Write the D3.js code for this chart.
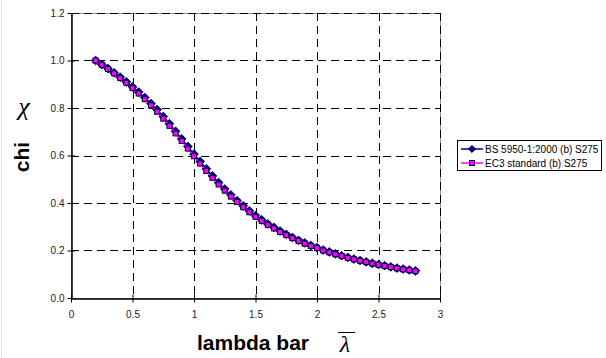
<!DOCTYPE html>
<html>
<head>
<meta charset="utf-8">
<script src="https://cdn.jsdelivr.net/npm/d3@7"></script>
<style>
  body { margin: 0; background: #fff; }
  svg { display: block; font-family: "Liberation Sans", Arial, sans-serif; }
</style>
</head>
<body>
<div id="chart"></div>
<script>
// slenderness values (x)
const lambdaBar = [0.20, 0.25, 0.30, 0.35, 0.40, 0.45, 0.50, 0.55, 0.60, 0.65,
  0.70, 0.75, 0.80, 0.85, 0.90, 0.95, 1.00, 1.05, 1.10, 1.15,
  1.20, 1.25, 1.30, 1.35, 1.40, 1.45, 1.50, 1.55, 1.60, 1.65,
  1.70, 1.75, 1.80, 1.85, 1.90, 1.95, 2.00, 2.05, 2.10, 2.15,
  2.20, 2.25, 2.30, 2.35, 2.40, 2.45, 2.50, 2.55, 2.60, 2.65,
  2.70, 2.75, 2.80];

// BS 5950-1:2000 (b) S275
const chiBS = [1.000, 0.983, 0.966, 0.948, 0.930, 0.910, 0.889, 0.867, 0.844, 0.819,
  0.793, 0.764, 0.734, 0.702, 0.670, 0.638, 0.606, 0.575, 0.544, 0.514,
  0.486, 0.459, 0.434, 0.410, 0.388, 0.367, 0.347, 0.329, 0.312, 0.297,
  0.282, 0.268, 0.255, 0.243, 0.232, 0.221, 0.212, 0.202, 0.194, 0.186,
  0.178, 0.171, 0.164, 0.158, 0.152, 0.146, 0.141, 0.136, 0.131, 0.126,
  0.122, 0.118, 0.114];

// EC3 standard (b) S275
const chiEC3 = [1.000, 0.982, 0.964, 0.946, 0.926, 0.906, 0.884, 0.861, 0.837, 0.811,
  0.784, 0.755, 0.725, 0.693, 0.661, 0.629, 0.597, 0.566, 0.535, 0.506,
  0.478, 0.452, 0.427, 0.404, 0.382, 0.361, 0.342, 0.325, 0.308, 0.293,
  0.278, 0.265, 0.252, 0.240, 0.229, 0.219, 0.210, 0.200, 0.192, 0.184,
  0.177, 0.169, 0.163, 0.157, 0.151, 0.145, 0.140, 0.135, 0.130, 0.125,
  0.121, 0.117, 0.113];

const xTicks = [0, 0.5, 1, 1.5, 2, 2.5, 3];
const yTicks = [0, 0.2, 0.4, 0.6, 0.8, 1.0, 1.2];
const seriesNames = ["BS 5950-1:2000 (b) S275", "EC3 standard (b) S275"];

const width = 606, height = 358;
const plot = { left: 71, right: 440, top: 13, bottom: 298 };

const svg = d3.select("#chart").append("svg")
  .attr("width", width)
  .attr("height", height);

// faint chart border on the left edge
svg.append("line")
  .attr("x1", 1.5).attr("x2", 1.5).attr("y1", 0).attr("y2", height)
  .attr("stroke", "#e3e3e3");

const x = d3.scaleLinear().domain([0, 3]).range([plot.left, plot.right]);
const y = d3.scaleLinear().domain([0, 1.2]).range([plot.bottom, plot.top]);

// plot area border
svg.append("rect")
  .attr("x", plot.left + 0.5).attr("y", plot.top + 0.5)
  .attr("width", plot.right - plot.left).attr("height", plot.bottom - plot.top)
  .attr("fill", "none")
  .attr("stroke", "#909090");

// dashed grid
const grid = svg.append("g").attr("stroke", "#000").attr("stroke-dasharray", "8,5");
grid.selectAll(".gx")
  .data(xTicks.filter(d => d > 0))
  .join("line")
  .attr("x1", d => Math.round(x(d)) + 0.5).attr("x2", d => Math.round(x(d)) + 0.5)
  .attr("y1", plot.top).attr("y2", plot.bottom);
grid.selectAll(".gy")
  .data(yTicks.filter(d => d > 0))
  .join("line")
  .attr("x1", plot.left).attr("x2", plot.right)
  .attr("y1", d => Math.round(y(d)) + 0.5).attr("y2", d => Math.round(y(d)) + 0.5);

// axes
const xAxis = svg.append("g")
  .attr("transform", `translate(0,${plot.bottom + 0.5})`)
  .call(d3.axisBottom(x).tickValues(xTicks).tickFormat(d3.format("")).tickSizeInner(4).tickSizeOuter(0));
xAxis.selectAll(".tick line").attr("y1", -4);
xAxis.selectAll("text").attr("font-size", 10).attr("fill", "#222").attr("dy", "1.2em");

const yAxis = svg.append("g")
  .attr("transform", `translate(${plot.left + 0.5},0)`)
  .call(d3.axisLeft(y).tickValues(yTicks).tickFormat(d3.format(".1f")).tickSizeInner(4).tickSizeOuter(0));
yAxis.selectAll(".tick line").attr("x1", 4).attr("x2", -4);
yAxis.selectAll("text").attr("font-size", 10).attr("fill", "#222").attr("x", -7);
svg.selectAll(".domain").attr("stroke", "#000").attr("stroke-width", 1.5);

const line = d3.line().x((d, i) => x(lambdaBar[i])).y(d => y(d));

// BS 5950 series: navy with diamonds
svg.append("path").datum(chiBS)
  .attr("d", line).attr("fill", "none").attr("stroke", "#000080").attr("stroke-width", 1.5);
const diamond = d3.symbol().type(d3.symbolDiamond2).size(48);
svg.append("g").selectAll("path")
  .data(chiBS)
  .join("path")
  .attr("d", diamond)
  .attr("transform", (d, i) => `translate(${x(lambdaBar[i])},${y(d)})`)
  .attr("fill", "#000080").attr("stroke", "#000080").attr("stroke-width", 1);

// EC3 series: magenta with squares
svg.append("path").datum(chiEC3)
  .attr("d", line).attr("fill", "none").attr("stroke", "#ff00ff").attr("stroke-width", 1.5);
svg.append("g").selectAll("rect")
  .data(chiEC3)
  .join("rect")
  .attr("x", (d, i) => x(lambdaBar[i]) - 2.5)
  .attr("y", d => y(d) - 2.5)
  .attr("width", 5).attr("height", 5)
  .attr("fill", "#ff00ff").attr("stroke", "#000040").attr("stroke-width", 1);

// axis titles
svg.append("text")
  .attr("x", 24).attr("y", 115)
  .attr("text-anchor", "middle")
  .attr("font-family", "'Liberation Serif', 'DejaVu Serif', serif")
  .attr("font-style", "italic").attr("font-size", 26)
  .text("χ");
svg.append("text")
  .attr("transform", "translate(29,157) rotate(-90)")
  .attr("text-anchor", "middle")
  .attr("font-weight", "bold").attr("font-size", 21)
  .text("chi");
svg.append("text")
  .attr("x", 197).attr("y", 350)
  .attr("font-weight", "bold").attr("font-size", 21)
  .text("lambda bar");
svg.append("text")
  .attr("x", 345).attr("y", 352)
  .attr("text-anchor", "middle")
  .attr("font-family", "'Liberation Serif', 'DejaVu Serif', serif")
  .attr("font-style", "italic").attr("font-size", 24)
  .text("λ");
svg.append("line")
  .attr("x1", 338).attr("x2", 355).attr("y1", 332.5).attr("y2", 332.5)
  .attr("stroke", "#000").attr("stroke-width", 1);

// legend
const legend = svg.append("g").attr("transform", "translate(457,140)");
legend.append("rect")
  .attr("x", 0.5).attr("y", 0.5).attr("width", 144).attr("height", 30)
  .attr("fill", "#fff").attr("stroke", "#000");
const items = legend.selectAll(".item")
  .data(seriesNames)
  .join("g")
  .attr("transform", (d, i) => `translate(0,${9 + i * 14})`);
items.append("line")
  .attr("x1", 4).attr("x2", 26)
  .attr("stroke", (d, i) => i === 0 ? "#000080" : "#ff00ff")
  .attr("stroke-width", 1.5);
items.filter((d, i) => i === 0).append("path")
  .attr("d", d3.symbol().type(d3.symbolDiamond2).size(32)).attr("transform", "translate(15,0)")
  .attr("fill", "#000080").attr("stroke", "#000080");
items.filter((d, i) => i === 1).append("rect")
  .attr("x", 12.5).attr("y", -2.5).attr("width", 5).attr("height", 5)
  .attr("fill", "#ff00ff").attr("stroke", "#000040");
items.append("text")
  .attr("x", 28).attr("dy", "0.35em")
  .attr("font-size", 10)
  .text(d => d);
</script>
</body>
</html>
